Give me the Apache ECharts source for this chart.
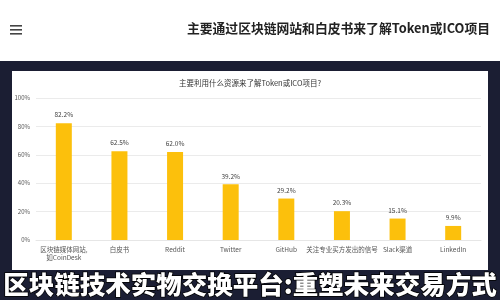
<!DOCTYPE html>
<html>
<head>
<meta charset="utf-8">
<script src="https://cdn.jsdelivr.net/npm/echarts@6/dist/echarts.min.js"></script>
<style>
  html, body { margin: 0; padding: 0; background: #fff; }
  #chart { width: 500px; height: 300px; }
</style>
</head>
<body>
<div id="chart"></div>
<script>
// 数据
const categories = ['区块链媒体网站,\n如CoinDesk', '白皮书', 'Reddit', 'Twitter', 'GitHub', '关注专业买方发出的信号', 'Slack渠道', 'LinkedIn']
const values = [82.2, 62.5, 62.0, 39.2, 29.2, 20.3, 15.1, 9.9]
const yTicks = [0, 20, 40, 60, 80, 100]

const font = '"Noto Sans CJK SC", "Noto Sans", sans-serif'
const chart = echarts.init(document.getElementById('chart'))

chart.setOption({
  backgroundColor: '#fff',
  textStyle: { fontFamily: font },
  graphic: [
    // 深色背景
    { type: 'rect', z: -10, shape: { x: 0, y: 61, width: 500, height: 239 }, style: { fill: '#1b1e33' } },
    // 白色面板
    { type: 'rect', z: -9, shape: { x: 12, y: 71, width: 476, height: 199 }, style: { fill: '#fff' } },
    // 菜单图标
    { type: 'rect', shape: { x: 10, y: 25, width: 12, height: 1.6 }, style: { fill: '#444' } },
    { type: 'rect', shape: { x: 10, y: 29, width: 12, height: 1.6 }, style: { fill: '#444' } },
    { type: 'rect', shape: { x: 10, y: 33, width: 12, height: 1.6 }, style: { fill: '#444' } },
    {
      type: 'text', right: 10, top: 22,
      style: { text: '主要通过区块链网站和白皮书来了解Token或ICO项目', fill: '#222', font: 'bold 12.8px ' + font }
    },
    {
      type: 'text', left: 'center', top: 79,
      style: { text: '主要利用什么资源来了解Token或ICO项目?', fill: '#333', font: '7.5px ' + font }
    },
    {
      type: 'text', left: 'center', top: 271, z: 100,
      style: {
        text: '区块链技术实物交换平台:重塑未来交易方式', fill: '#fff',
        font: '900 25.5px ' + font, stroke: '#000', lineWidth: 1.5
      }
    }
  ],
  grid: { left: 36, right: 19, top: 98, bottom: 60 },
  xAxis: {
    type: 'category',
    data: categories,
    axisLine: { lineStyle: { color: '#e6e6e6' } },
    axisTick: { show: false },
    axisLabel: { interval: 0, color: '#555', fontSize: 6.5, lineHeight: 8, margin: 6 }
  },
  yAxis: {
    type: 'value',
    min: yTicks[0],
    max: yTicks[yTicks.length - 1],
    interval: 20,
    axisLine: { show: false },
    axisTick: { show: false },
    splitLine: { lineStyle: { color: '#ebebeb' } },
    axisLabel: { formatter: '{value}%', color: '#555', fontSize: 6, margin: 6 }
  },
  series: [{
    type: 'bar',
    data: values,
    barWidth: 16,
    itemStyle: { color: '#fcc00c' },
    label: {
      show: true, position: 'top', color: '#444', fontSize: 6.5, distance: 5,
      formatter: p => p.value.toFixed(1) + '%'
    }
  }]
})
</script>
</body>
</html>
